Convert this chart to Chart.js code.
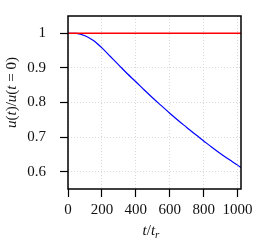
<!DOCTYPE html>
<html>
<head>
<meta charset="utf-8">
<script src="https://cdn.jsdelivr.net/npm/chart.js@4.4.1/dist/chart.umd.min.js"></script>
<style>
  html, body { margin: 0; padding: 0; background: #fff; }
</style>
</head>
<body>
<canvas id="chart" width="266" height="245"></canvas>
<script>
// datos
const tVals = [0, 50, 100, 150, 200, 250, 300, 350, 400, 450, 500, 550, 600, 650, 700, 750, 800, 850, 900, 950, 1000, 1020];
const uVals = [1.000, 0.9995, 0.993, 0.979, 0.958, 0.933, 0.908, 0.883, 0.860, 0.836, 0.813, 0.791, 0.769, 0.748, 0.728, 0.708, 0.689, 0.670, 0.652, 0.635, 0.619, 0.612];
const refT = [0, 1020];
const refU = [1, 1];

const xTicks = [0, 200, 400, 600, 800, 1000];
const yTicks = [0.6, 0.7, 0.8, 0.9, 1];

// titulos de ejes (segmentos: texto, cursiva, subindice)
const xTitle = [['t', true], ['/', false], ['t', true], ['r', true, true]];
const yTitle = [['u', true], ['(', false], ['t', true], [')/', false], ['u', true], ['(', false], ['t', true], [' = 0)', false]];

const SERIF = '"Liberation Serif", "DejaVu Serif", serif';

function drawRich(ctx, segs) {
  const fontOf = s => (s[1] ? 'italic ' : '') + (s[2] ? '11px ' : '15px ') + SERIF;
  let w = 0;
  segs.forEach(s => { ctx.font = fontOf(s); w += ctx.measureText(s[0]).width; });
  let x = -w / 2;
  segs.forEach(s => {
    ctx.font = fontOf(s);
    ctx.fillText(s[0], x, s[2] ? 3 : 0);
    x += ctx.measureText(s[0]).width;
  });
}

// marco completo + titulos de ejes
const framePlugin = {
  id: 'frame',
  afterDraw(chart) {
    const { ctx, chartArea: a } = chart;
    ctx.save();
    ctx.strokeStyle = '#000';
    ctx.lineWidth = 1.5;
    ctx.strokeRect(a.left, a.top, a.right - a.left, a.bottom - a.top);

    ctx.fillStyle = '#111';
    ctx.textAlign = 'left';
    ctx.textBaseline = 'alphabetic';
    ctx.save();
    ctx.translate(151, 235);
    drawRich(ctx, xTitle);
    ctx.restore();
    ctx.save();
    ctx.translate(16, 92.5);
    ctx.rotate(-Math.PI / 2);
    drawRich(ctx, yTitle);
    ctx.restore();
    ctx.restore();
  }
};

const tickFont = { family: SERIF, size: 15 };
const gridCfg = {
  color: '#d8d8d8',
  lineWidth: 1,
  drawTicks: true,
  tickLength: 8,
  tickColor: '#000',
  tickWidth: 1.2,
  tickBorderDash: []
};

new Chart(document.getElementById('chart'), {
  type: 'line',
  data: {
    datasets: [
      {
        data: refT.map((t, i) => ({ x: t, y: refU[i] })),
        borderColor: '#ff0000',
        borderWidth: 1.5,
        pointRadius: 0
      },
      {
        data: tVals.map((t, i) => ({ x: t, y: uVals[i] })),
        borderColor: '#0000ff',
        borderWidth: 1.2,
        pointRadius: 0,
        cubicInterpolationMode: 'monotone'
      }
    ]
  },
  options: {
    responsive: false,
    animation: false,
    layout: { padding: { left: 0, right: 25, top: 16, bottom: 0 } },
    plugins: { legend: { display: false }, tooltip: { enabled: false } },
    scales: {
      x: {
        type: 'linear',
        min: 0,
        max: 1020,
        afterBuildTicks: s => { s.ticks = xTicks.map(v => ({ value: v })); },
        afterFit: s => { s.height = 56; s.paddingLeft = 0; s.paddingRight = 0; },
        grid: gridCfg,
        border: { display: false, dash: [1, 2] },
        ticks: { font: tickFont, color: '#111', padding: 4, autoSkip: false, maxRotation: 0, callback: v => String(v) }
      },
      y: {
        type: 'linear',
        min: 0.55,
        max: 1.05,
        afterBuildTicks: s => { s.ticks = yTicks.map(v => ({ value: v })); },
        afterFit: s => { s.width = 68; s.paddingTop = 0; s.paddingBottom = 0; },
        grid: gridCfg,
        border: { display: false, dash: [1, 2] },
        ticks: { font: tickFont, color: '#111', padding: 14, callback: v => String(v) }
      }
    }
  },
  plugins: [framePlugin]
});
</script>
</body>
</html>
